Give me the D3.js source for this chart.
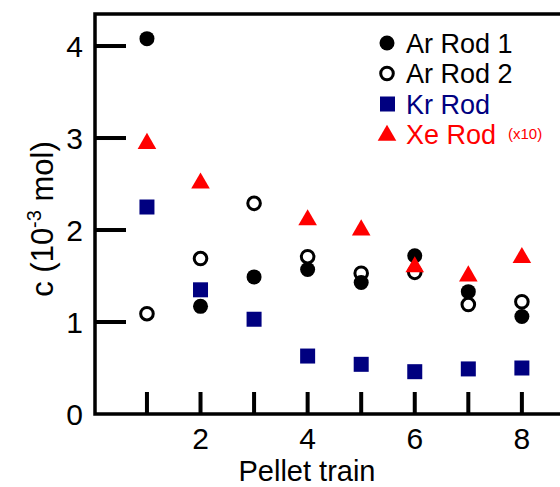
<!DOCTYPE html>
<html>
<head>
<meta charset="utf-8">
<script src="https://cdn.jsdelivr.net/npm/d3@7"></script>
<style>
  body { margin: 0; background: #fff; }
  svg { font-family: Arial, "Liberation Sans", sans-serif; }
</style>
</head>
<body>
<div id="chart"></div>
<script>
// Data
const trains = [1, 2, 3, 4, 5, 6, 7, 8];
const arRod1 = [4.08, 1.17, 1.49, 1.57, 1.43, 1.72, 1.33, 1.06];
const arRod2 = [1.09, 1.69, 2.29, 1.71, 1.53, 1.54, 1.19, 1.22];
const krRod  = [2.25, 1.35, 1.03, 0.63, 0.54, 0.46, 0.49, 0.50];
const xeRod  = [2.95, 2.52, null, 2.12, 2.01, 1.61, 1.51, 1.71];   // x10
const yTicks = [0, 1, 2, 3, 4];
const xLabelTicks = [2, 4, 6, 8];

const W = 560, H = 487;
const margin = {top: 14, left: 95, bottom: 73};
const plotBottom = H - margin.bottom;

const svg = d3.select("#chart").append("svg")
    .attr("width", W).attr("height", H);

const x = d3.scaleLinear().domain([0.03, 10]).range([margin.left, margin.left + 534]);
const y = d3.scaleLinear().domain([0, 4.348]).range([plotBottom, margin.top]);

// frame (right side runs off the page)
svg.append("rect")
    .attr("x", margin.left).attr("y", margin.top)
    .attr("width", 600).attr("height", plotBottom - margin.top)
    .attr("fill", "none").attr("stroke", "#000").attr("stroke-width", 3.5);

// y ticks (inward), drawn as thin rects
svg.append("g").selectAll("rect")
    .data(yTicks.filter(d => d > 0)).join("rect")
    .attr("x", margin.left).attr("width", 31)
    .attr("y", d => y(d) - 2).attr("height", 4)
    .attr("fill", "#000");

svg.append("g").selectAll("text")
    .data(yTicks).join("text")
    .attr("x", 83).attr("y", d => y(d) + 11)
    .attr("text-anchor", "end")
    .style("font-size", "30px")
    .text(d => d);

// x ticks (inward)
svg.append("g").selectAll("rect")
    .data(trains).join("rect")
    .attr("x", d => x(d) - 2).attr("width", 4)
    .attr("y", plotBottom - 22).attr("height", 22)
    .attr("fill", "#000");

svg.append("g").selectAll("text")
    .data(xLabelTicks).join("text")
    .attr("x", d => x(d)).attr("y", plotBottom + 35)
    .attr("text-anchor", "middle")
    .style("font-size", "30px")
    .text(d => d);

// axis titles
svg.append("text")
    .attr("x", 307).attr("y", 481)
    .attr("text-anchor", "middle")
    .style("font-size", "29px")
    .text("Pellet train");

const yl = svg.append("text")
    .attr("transform", "translate(53,219) rotate(-90)")
    .attr("text-anchor", "middle")
    .style("font-size", "31px");
yl.append("tspan").text("c (10");
yl.append("tspan").attr("dy", -12).style("font-size", "20px").text("-3");
yl.append("tspan").attr("dy", 12).text(" mol)");

// markers
const pts = arr => trains.map((t, i) => ({t, v: arr[i]})).filter(d => d.v != null);

svg.append("g").selectAll("circle")
    .data(pts(arRod2)).join("circle")
    .attr("cx", d => x(d.t)).attr("cy", d => y(d.v)).attr("r", 6.3)
    .attr("fill", "none").attr("stroke", "#000").attr("stroke-width", 3);

svg.append("g").selectAll("circle")
    .data(pts(arRod1)).join("circle")
    .attr("cx", d => x(d.t)).attr("cy", d => y(d.v)).attr("r", 7.5)
    .attr("fill", "#000");

svg.append("g").selectAll("rect")
    .data(pts(krRod)).join("rect")
    .attr("x", d => x(d.t) - 7.5).attr("y", d => y(d.v) - 7.5)
    .attr("width", 15).attr("height", 15)
    .attr("fill", "#000080");

const tri = d3.symbol().type(d3.symbolTriangle).size(150);
svg.append("g").selectAll("path")
    .data(pts(xeRod)).join("path")
    .attr("transform", d => `translate(${x(d.t)},${y(d.v) + 1})`)
    .attr("d", tri)
    .attr("fill", "#ff0000");

// legend
const legend = [
  {name: "Ar Rod 1", color: "#000", sym: "filled"},
  {name: "Ar Rod 2", color: "#000", sym: "open"},
  {name: "Kr Rod", color: "#000080", sym: "square"},
  {name: "Xe Rod", color: "#ff0000", sym: "tri"}
];
const lg = svg.append("g");
legend.forEach((d, i) => {
  const cy = 43 + i * 30.5;
  if (d.sym === "filled") lg.append("circle").attr("cx", 387).attr("cy", cy).attr("r", 7.5).attr("fill", "#000");
  if (d.sym === "open") lg.append("circle").attr("cx", 387).attr("cy", cy).attr("r", 6.3)
      .attr("fill", "none").attr("stroke", "#000").attr("stroke-width", 3);
  if (d.sym === "square") lg.append("rect").attr("x", 380).attr("y", cy - 7.5).attr("width", 15).attr("height", 15).attr("fill", d.color);
  if (d.sym === "tri") lg.append("path").attr("transform", `translate(387,${cy + 1})`).attr("d", tri).attr("fill", d.color);
  lg.append("text").attr("x", 406).attr("y", cy + 9.5)
      .style("font-size", "27px").attr("fill", d.color).text(d.name);
});
lg.append("text").attr("x", 508).attr("y", 139)
    .style("font-size", "15px").attr("fill", "#ff0000").text("(x10)");
</script>
</body>
</html>
